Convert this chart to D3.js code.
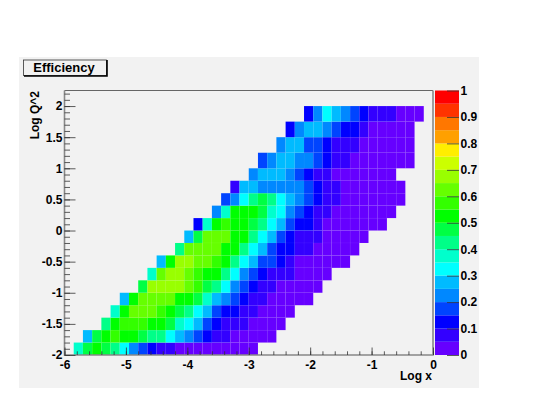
<!DOCTYPE html>
<html>
<head>
<meta charset="utf-8">
<script src="https://cdn.jsdelivr.net/npm/d3@7"></script>
<style>
  html, body { margin: 0; padding: 0; background: #fff; }
  svg { display: block; }
  text { font-family: "Liberation Sans", Arial, sans-serif; font-weight: bold; fill: #000; }
</style>
</head>
<body>
<svg id="svg" width="536" height="414"></svg>
<script>
// y bin edges: 0.2 wide up to 1, then 0.25 wide
const yEdges = [-2, -1.8, -1.6, -1.4, -1.2, -1, -0.8, -0.6, -0.4, -0.2, 0, 0.2, 0.4, 0.6, 0.8, 1, 1.25, 1.5, 1.75, 2];
const xBinWidth = 0.15;

// first filled x bin of every row, bottom row first
const rowStart = [1, 2, 4, 5, 6, 8, 9, 10, 12, 13, 14, 16, 17, 18, 20, 21, 23, 24, 26];

// efficiency per row, bottom row first
const efficiency = [
  [.37, .47, .52, .47, .42, .32, .22, .17, .12, .07, .07, .02, .02, .02, .02, .02, .02, .02, .02, .02],
  [.27, .47, .52, .57, .52, .52, .47, .42, .42, .32, .27, .22, .17, .12, .07, .07, .02, .02, .02, .02, .02],
  [.42, .52, .57, .57, .57, .52, .52, .47, .37, .32, .27, .17, .12, .07, .07, .07, .02, .02, .02, .02],
  [.37, .52, .62, .62, .62, .57, .52, .47, .42, .32, .27, .17, .12, .12, .07, .07, .02, .02, .02, .02],
  [.27, .52, .62, .62, .62, .62, .52, .52, .47, .37, .27, .22, .17, .12, .07, .07, .02, .02, .02, .02, .02],
  [.47, .67, .67, .67, .67, .62, .57, .47, .42, .32, .22, .17, .12, .07, .07, .02, .02, .02, .02, .02],
  [.37, .62, .67, .67, .62, .57, .52, .52, .42, .32, .22, .17, .12, .07, .07, .07, .02, .02, .02, .02],
  [.27, .52, .67, .67, .62, .62, .57, .52, .42, .32, .27, .17, .17, .12, .07, .02, .02, .02, .02, .02, .02],
  [.42, .62, .62, .62, .62, .52, .52, .42, .32, .27, .17, .12, .12, .07, .07, .02, .02, .02, .02, .02],
  [.27, .47, .62, .62, .62, .52, .52, .42, .32, .27, .17, .12, .07, .07, .07, .02, .02, .02, .02, .02],
  [.12, .37, .52, .57, .52, .52, .47, .42, .32, .27, .17, .12, .12, .07, .02, .02, .02, .02, .02, .02, .02],
  [.22, .37, .52, .52, .52, .47, .37, .32, .22, .17, .12, .07, .07, .02, .02, .02, .02, .02, .02, .02],
  [.17, .22, .32, .42, .47, .42, .32, .27, .22, .17, .12, .07, .07, .02, .02, .02, .02, .02, .02, .02],
  [.07, .27, .27, .22, .22, .22, .22, .22, .17, .12, .07, .07, .02, .02, .02, .02, .02, .02, .02],
  [.22, .27, .27, .27, .22, .17, .12, .07, .07, .02, .02, .02, .02, .02, .02, .02],
  [.17, .22, .27, .27, .22, .22, .17, .12, .07, .07, .02, .02, .02, .02, .02, .02, .02],
  [.22, .27, .27, .17, .17, .12, .07, .07, .07, .02, .02, .02, .02, .02, .02],
  [.12, .22, .27, .27, .22, .17, .12, .12, .07, .02, .02, .02, .02, .02],
  [.12, .22, .32, .27, .22, .17, .12, .07, .07, .07, .02, .02, .02]
];

// 20 contour colours of the palette, low to high
const paletteColors = [
  "#6600ff", "#3300ff", "#0000ff", "#0044ff", "#0088ff",
  "#00bbff", "#00ffff", "#00ffcc", "#00ff88", "#00ff44",
  "#00ff00", "#33ff00", "#66ff00", "#99ff00", "#ccff00",
  "#ffee00", "#ffa000", "#ff7700", "#ff3300", "#ff0000"
];

const xMajor = [-6, -5, -4, -3, -2, -1, 0];
const yMajor = [-2, -1.5, -1, -0.5, 0, 0.5, 1, 1.5, 2];
const zMajor = [0, 0.1, 0.2, 0.3, 0.4, 0.5, 0.6, 0.7, 0.8, 0.9, 1];

const labelSize = 12;

const svg = d3.select("#svg");

const xScale = d3.scaleLinear().domain([-6, 0]).range([64.5, 433]);
const yScale = d3.scaleLinear().domain([-2, 2.25]).range([355, 90.5]);
const zScale = d3.scaleLinear().domain([0, 1]).range([355, 90.5]);
const colorScale = d3.scaleQuantize().domain([0, 1]).range(paletteColors);

// grey pad
svg.append("rect")
  .attr("x", 19).attr("y", 57)
  .attr("width", 460).attr("height", 331)
  .attr("fill", "#f2f2f2");

// cells
const cells = [];
efficiency.forEach((row, r) => {
  row.forEach((value, i) => {
    const col = rowStart[r] + i;
    cells.push({ col, r, value });
  });
});

svg.append("g")
  .selectAll("rect")
  .data(cells)
  .enter()
  .append("rect")
  .attr("x", d => xScale(-6 + d.col * xBinWidth))
  .attr("y", d => yScale(yEdges[d.r + 1]))
  .attr("width", d => xScale(-6 + (d.col + 1) * xBinWidth) - xScale(-6 + d.col * xBinWidth))
  .attr("height", d => yScale(yEdges[d.r]) - yScale(yEdges[d.r + 1]))
  .attr("fill", d => colorScale(d.value))
  .attr("stroke", "#fff")
  .attr("stroke-opacity", 0.05)
  .attr("stroke-width", 0.5);

// palette
const zStep = 1 / paletteColors.length;
svg.append("g")
  .selectAll("rect")
  .data(paletteColors)
  .enter()
  .append("rect")
  .attr("x", 435)
  .attr("y", (d, i) => zScale((i + 1) * zStep))
  .attr("width", 24)
  .attr("height", (d, i) => zScale(i * zStep) - zScale((i + 1) * zStep))
  .attr("fill", d => d);

// frame
svg.append("path")
  .attr("d", `M${xScale(-6)},${yScale(2.25)}H${xScale(0)}`)
  .attr("fill", "none").attr("stroke", "#666").attr("stroke-width", 1);
svg.append("path")
  .attr("d", `M${xScale(-6)},${yScale(2.25)}V${yScale(-2)}H${xScale(0)}V${yScale(2.25)}`)
  .attr("fill", "none").attr("stroke", "#888").attr("stroke-width", 1.6);

function styleAxis(g) {
  g.select(".domain").remove();
  g.selectAll("line").attr("stroke", "#333").attr("stroke-width", 0.8);
  g.selectAll("text").attr("font-size", labelSize).style("font-weight", "bold");
}

// x axis, ticks point inwards
svg.append("g")
  .attr("transform", `translate(0,${yScale(-2)})`)
  .call(d3.axisBottom(xScale).tickValues(d3.range(-6, 0.01, 0.2)).tickSize(-3.7).tickFormat(""))
  .call(styleAxis);
svg.append("g")
  .attr("transform", `translate(0,${yScale(-2)})`)
  .call(d3.axisBottom(xScale).tickValues(xMajor).tickSizeInner(-7.5).tickSizeOuter(0).tickPadding(5).tickFormat(d => String(d)))
  .call(styleAxis);

// y axis, ticks point inwards
svg.append("g")
  .attr("transform", `translate(${xScale(-6)},0)`)
  .call(d3.axisLeft(yScale).tickValues(d3.range(-2, 2.21, 0.1)).tickSize(-5.5).tickFormat(""))
  .call(styleAxis);
svg.append("g")
  .attr("transform", `translate(${xScale(-6)},0)`)
  .call(d3.axisLeft(yScale).tickValues(yMajor).tickSizeInner(-11).tickSizeOuter(0).tickPadding(2).tickFormat(d => String(d)))
  .call(styleAxis);

// palette axis
svg.append("g")
  .attr("transform", "translate(459,0)")
  .call(d3.axisRight(zScale).tickValues(zMajor).tickSizeInner(-12).tickSizeOuter(0).tickPadding(1.5).tickFormat(d => String(d)))
  .call(styleAxis);

// axis titles
svg.append("text")
  .attr("x", 432).attr("y", 380)
  .attr("text-anchor", "end").attr("font-size", labelSize)
  .text("Log x");
svg.append("text")
  .attr("transform", "translate(39,91) rotate(-90)")
  .attr("text-anchor", "end").attr("font-size", labelSize)
  .text("Log Q^2");

// title box
svg.append("rect")
  .attr("x", 23.5).attr("y", 60)
  .attr("width", 83).attr("height", 15.5)
  .attr("fill", "#f2f2f2").attr("stroke", "#333").attr("stroke-width", 0.8);
svg.append("path")
  .attr("d", "M24,76H107V60")
  .attr("fill", "none").attr("stroke", "#000").attr("stroke-width", 1.6);
svg.append("text")
  .attr("x", 64).attr("y", 72)
  .attr("text-anchor", "middle").attr("font-size", 13)
  .text("Efficiency");
</script>
</body>
</html>
